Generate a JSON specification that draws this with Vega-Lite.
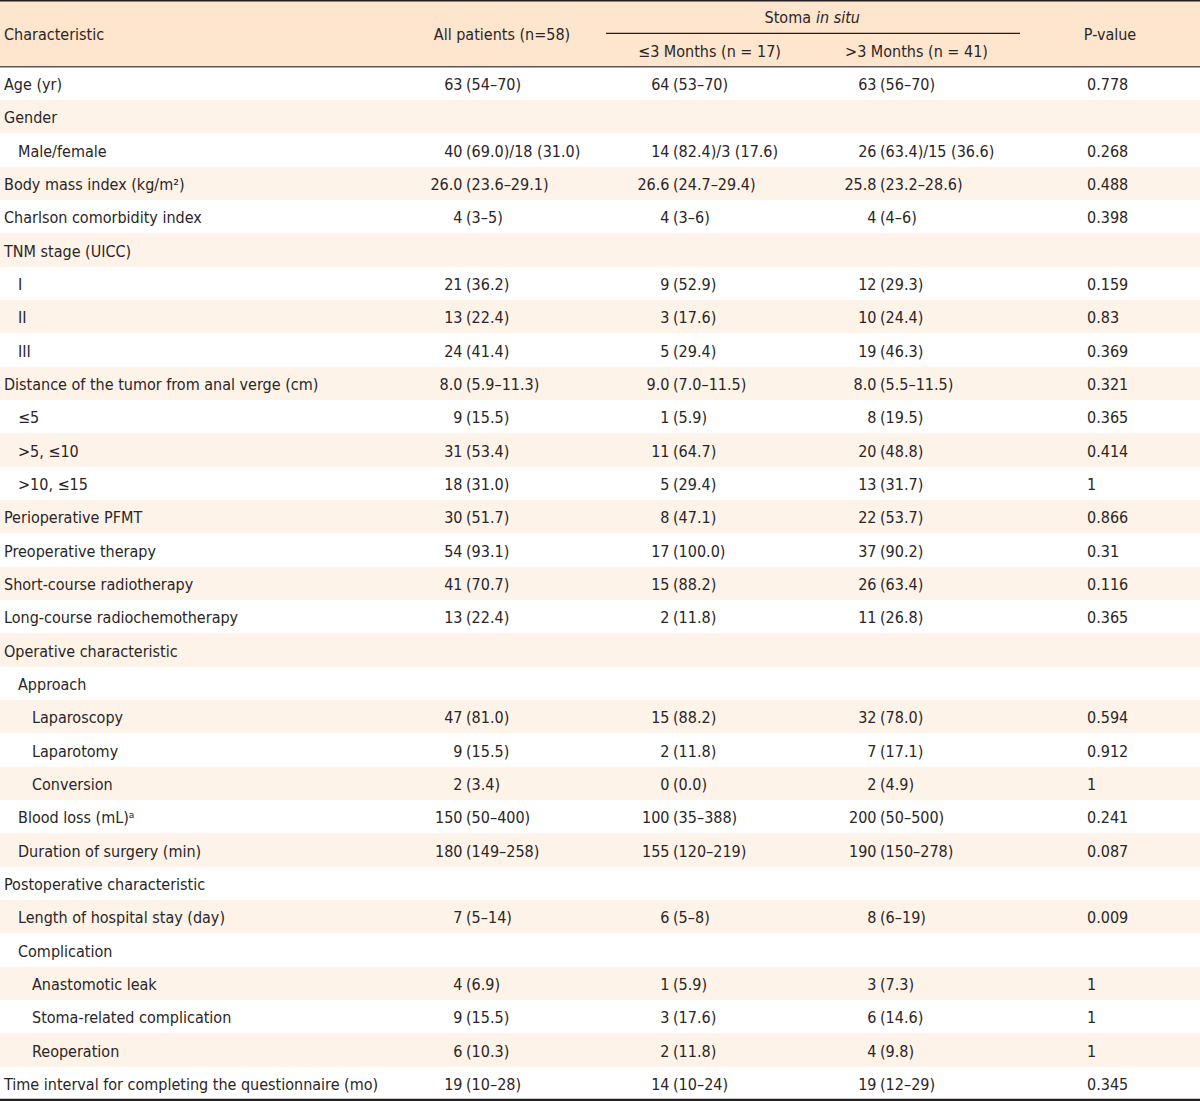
{
  "$schema": "https://vega.github.io/schema/vega-lite/v6.json",
  "width": 1200,
  "height": 1101,
  "padding": 0,
  "autosize": {"type": "none"},
  "background": "white",
  "config": {
    "view": {"stroke": null},
    "text": {"font": "DejaVu Sans Condensed, Roboto, sans-serif", "fontSize": 16, "color": "#2a2526", "dy": 1.5}
  },
  "datasets": {
    "hdr": [
      {"r": -2, "c": 0, "c2": 1, "t": "Characteristic"},
      {"r": -2, "c": 1, "c2": 2, "t": "All patients (n=58)"},
      {"r": -2, "c": 2, "c2": 4, "t": "Stoma", "it": "in situ"},
      {"r": -1, "c": 2, "c2": 3, "t": "≤3 Months (n = 17)"},
      {"r": -1, "c": 3, "c2": 4, "t": ">3 Months (n = 41)"},
      {"r": -2, "c": 4, "c2": 5, "t": "P-value"}
    ],
    "body": [
      {"r": 0, "c": 0, "l": 0, "n": "Age (yr)"},
      {"r": 0, "c": 1, "n": "63", "s": "(54–70)"},
      {"r": 0, "c": 2, "n": "64", "s": "(53–70)"},
      {"r": 0, "c": 3, "n": "63", "s": "(56–70)"},
      {"r": 0, "c": 4, "n": "0.778"},
      {"r": 1, "c": 0, "l": 0, "n": "Gender"},
      {"r": 2, "c": 0, "l": 1, "n": "Male/female"},
      {"r": 2, "c": 1, "n": "40", "s": "(69.0)/18 (31.0)"},
      {"r": 2, "c": 2, "n": "14", "s": "(82.4)/3 (17.6)"},
      {"r": 2, "c": 3, "n": "26", "s": "(63.4)/15 (36.6)"},
      {"r": 2, "c": 4, "n": "0.268"},
      {"r": 3, "c": 0, "l": 0, "n": "Body mass index (kg/m²)"},
      {"r": 3, "c": 1, "n": "26.0", "s": "(23.6–29.1)"},
      {"r": 3, "c": 2, "n": "26.6", "s": "(24.7–29.4)"},
      {"r": 3, "c": 3, "n": "25.8", "s": "(23.2–28.6)"},
      {"r": 3, "c": 4, "n": "0.488"},
      {"r": 4, "c": 0, "l": 0, "n": "Charlson comorbidity index"},
      {"r": 4, "c": 1, "n": "4", "s": "(3–5)"},
      {"r": 4, "c": 2, "n": "4", "s": "(3–6)"},
      {"r": 4, "c": 3, "n": "4", "s": "(4–6)"},
      {"r": 4, "c": 4, "n": "0.398"},
      {"r": 5, "c": 0, "l": 0, "n": "TNM stage (UICC)"},
      {"r": 6, "c": 0, "l": 1, "n": "I"},
      {"r": 6, "c": 1, "n": "21", "s": "(36.2)"},
      {"r": 6, "c": 2, "n": "9", "s": "(52.9)"},
      {"r": 6, "c": 3, "n": "12", "s": "(29.3)"},
      {"r": 6, "c": 4, "n": "0.159"},
      {"r": 7, "c": 0, "l": 1, "n": "II"},
      {"r": 7, "c": 1, "n": "13", "s": "(22.4)"},
      {"r": 7, "c": 2, "n": "3", "s": "(17.6)"},
      {"r": 7, "c": 3, "n": "10", "s": "(24.4)"},
      {"r": 7, "c": 4, "n": "0.83"},
      {"r": 8, "c": 0, "l": 1, "n": "III"},
      {"r": 8, "c": 1, "n": "24", "s": "(41.4)"},
      {"r": 8, "c": 2, "n": "5", "s": "(29.4)"},
      {"r": 8, "c": 3, "n": "19", "s": "(46.3)"},
      {"r": 8, "c": 4, "n": "0.369"},
      {"r": 9, "c": 0, "l": 0, "n": "Distance of the tumor from anal verge (cm)"},
      {"r": 9, "c": 1, "n": "8.0", "s": "(5.9–11.3)"},
      {"r": 9, "c": 2, "n": "9.0", "s": "(7.0–11.5)"},
      {"r": 9, "c": 3, "n": "8.0", "s": "(5.5–11.5)"},
      {"r": 9, "c": 4, "n": "0.321"},
      {"r": 10, "c": 0, "l": 1, "n": "≤5"},
      {"r": 10, "c": 1, "n": "9", "s": "(15.5)"},
      {"r": 10, "c": 2, "n": "1", "s": "(5.9)"},
      {"r": 10, "c": 3, "n": "8", "s": "(19.5)"},
      {"r": 10, "c": 4, "n": "0.365"},
      {"r": 11, "c": 0, "l": 1, "n": ">5, ≤10"},
      {"r": 11, "c": 1, "n": "31", "s": "(53.4)"},
      {"r": 11, "c": 2, "n": "11", "s": "(64.7)"},
      {"r": 11, "c": 3, "n": "20", "s": "(48.8)"},
      {"r": 11, "c": 4, "n": "0.414"},
      {"r": 12, "c": 0, "l": 1, "n": ">10, ≤15"},
      {"r": 12, "c": 1, "n": "18", "s": "(31.0)"},
      {"r": 12, "c": 2, "n": "5", "s": "(29.4)"},
      {"r": 12, "c": 3, "n": "13", "s": "(31.7)"},
      {"r": 12, "c": 4, "n": "1"},
      {"r": 13, "c": 0, "l": 0, "n": "Perioperative PFMT"},
      {"r": 13, "c": 1, "n": "30", "s": "(51.7)"},
      {"r": 13, "c": 2, "n": "8", "s": "(47.1)"},
      {"r": 13, "c": 3, "n": "22", "s": "(53.7)"},
      {"r": 13, "c": 4, "n": "0.866"},
      {"r": 14, "c": 0, "l": 0, "n": "Preoperative therapy"},
      {"r": 14, "c": 1, "n": "54", "s": "(93.1)"},
      {"r": 14, "c": 2, "n": "17", "s": "(100.0)"},
      {"r": 14, "c": 3, "n": "37", "s": "(90.2)"},
      {"r": 14, "c": 4, "n": "0.31"},
      {"r": 15, "c": 0, "l": 0, "n": "Short-course radiotherapy"},
      {"r": 15, "c": 1, "n": "41", "s": "(70.7)"},
      {"r": 15, "c": 2, "n": "15", "s": "(88.2)"},
      {"r": 15, "c": 3, "n": "26", "s": "(63.4)"},
      {"r": 15, "c": 4, "n": "0.116"},
      {"r": 16, "c": 0, "l": 0, "n": "Long-course radiochemotherapy"},
      {"r": 16, "c": 1, "n": "13", "s": "(22.4)"},
      {"r": 16, "c": 2, "n": "2", "s": "(11.8)"},
      {"r": 16, "c": 3, "n": "11", "s": "(26.8)"},
      {"r": 16, "c": 4, "n": "0.365"},
      {"r": 17, "c": 0, "l": 0, "n": "Operative characteristic"},
      {"r": 18, "c": 0, "l": 1, "n": "Approach"},
      {"r": 19, "c": 0, "l": 2, "n": "Laparoscopy"},
      {"r": 19, "c": 1, "n": "47", "s": "(81.0)"},
      {"r": 19, "c": 2, "n": "15", "s": "(88.2)"},
      {"r": 19, "c": 3, "n": "32", "s": "(78.0)"},
      {"r": 19, "c": 4, "n": "0.594"},
      {"r": 20, "c": 0, "l": 2, "n": "Laparotomy"},
      {"r": 20, "c": 1, "n": "9", "s": "(15.5)"},
      {"r": 20, "c": 2, "n": "2", "s": "(11.8)"},
      {"r": 20, "c": 3, "n": "7", "s": "(17.1)"},
      {"r": 20, "c": 4, "n": "0.912"},
      {"r": 21, "c": 0, "l": 2, "n": "Conversion"},
      {"r": 21, "c": 1, "n": "2", "s": "(3.4)"},
      {"r": 21, "c": 2, "n": "0", "s": "(0.0)"},
      {"r": 21, "c": 3, "n": "2", "s": "(4.9)"},
      {"r": 21, "c": 4, "n": "1"},
      {"r": 22, "c": 0, "l": 1, "n": "Blood loss (mL)ᵃ"},
      {"r": 22, "c": 1, "n": "150", "s": "(50–400)"},
      {"r": 22, "c": 2, "n": "100", "s": "(35–388)"},
      {"r": 22, "c": 3, "n": "200", "s": "(50–500)"},
      {"r": 22, "c": 4, "n": "0.241"},
      {"r": 23, "c": 0, "l": 1, "n": "Duration of surgery (min)"},
      {"r": 23, "c": 1, "n": "180", "s": "(149–258)"},
      {"r": 23, "c": 2, "n": "155", "s": "(120–219)"},
      {"r": 23, "c": 3, "n": "190", "s": "(150–278)"},
      {"r": 23, "c": 4, "n": "0.087"},
      {"r": 24, "c": 0, "l": 0, "n": "Postoperative characteristic"},
      {"r": 25, "c": 0, "l": 1, "n": "Length of hospital stay (day)"},
      {"r": 25, "c": 1, "n": "7", "s": "(5–14)"},
      {"r": 25, "c": 2, "n": "6", "s": "(5–8)"},
      {"r": 25, "c": 3, "n": "8", "s": "(6–19)"},
      {"r": 25, "c": 4, "n": "0.009"},
      {"r": 26, "c": 0, "l": 1, "n": "Complication"},
      {"r": 27, "c": 0, "l": 2, "n": "Anastomotic leak"},
      {"r": 27, "c": 1, "n": "4", "s": "(6.9)"},
      {"r": 27, "c": 2, "n": "1", "s": "(5.9)"},
      {"r": 27, "c": 3, "n": "3", "s": "(7.3)"},
      {"r": 27, "c": 4, "n": "1"},
      {"r": 28, "c": 0, "l": 2, "n": "Stoma-related complication"},
      {"r": 28, "c": 1, "n": "9", "s": "(15.5)"},
      {"r": 28, "c": 2, "n": "3", "s": "(17.6)"},
      {"r": 28, "c": 3, "n": "6", "s": "(14.6)"},
      {"r": 28, "c": 4, "n": "1"},
      {"r": 29, "c": 0, "l": 2, "n": "Reoperation"},
      {"r": 29, "c": 1, "n": "6", "s": "(10.3)"},
      {"r": 29, "c": 2, "n": "2", "s": "(11.8)"},
      {"r": 29, "c": 3, "n": "4", "s": "(9.8)"},
      {"r": 29, "c": 4, "n": "1"},
      {"r": 30, "c": 0, "l": 0, "n": "Time interval for completing the questionnaire (mo)"},
      {"r": 30, "c": 1, "n": "19", "s": "(10–28)"},
      {"r": 30, "c": 2, "n": "14", "s": "(10–24)"},
      {"r": 30, "c": 3, "n": "19", "s": "(12–29)"},
      {"r": 30, "c": 4, "n": "0.345"}
    ]
  },
  "layer": [
    {
      "data": {"name": "hdr"},
      "mark": {"type": "rect", "fill": "#fde5ce"},
      "encoding": {
        "y": {"field": "r", "type": "ordinal", "axis": null, "scale": {"type": "band", "domain": [-2,-1,0,1,2,3,4,5,6,7,8,9,10,11,12,13,14,15,16,17,18,19,20,21,22,23,24,25,26,27,28,29,30], "range": [0, 1100], "paddingInner": 0, "paddingOuter": 0}}
      }
    },
    {
      "data": {"name": "body"},
      "transform": [{"filter": "datum.c == 0 && datum.r % 2 == 1"}],
      "mark": {"type": "rect", "fill": "#fef3e9"},
      "encoding": {
        "y": {"field": "r", "type": "ordinal", "axis": null}
      }
    },
    {
      "data": {"name": "hdr"},
      "transform": [{"filter": "datum.r == -2 && datum.c == 0"}],
      "mark": {"type": "rule", "stroke": "#231f20", "strokeWidth": 3},
      "encoding": {"y": {"field": "r", "type": "ordinal", "bandPosition": 0, "axis": null}}
    },
    {
      "data": {"name": "body"},
      "transform": [{"filter": "datum.r == 0 && datum.c == 0"}],
      "mark": {"type": "rule", "stroke": "#5b5656", "strokeWidth": 1.5},
      "encoding": {"y": {"field": "r", "type": "ordinal", "bandPosition": 0, "axis": null}}
    },
    {
      "data": {"name": "body"},
      "transform": [{"filter": "datum.r == 30 && datum.c == 0"}],
      "mark": {"type": "rule", "stroke": "#231f20", "strokeWidth": 2.5},
      "encoding": {"y": {"field": "r", "type": "ordinal", "bandPosition": 1, "axis": null}}
    },
    {
      "data": {"name": "hdr"},
      "transform": [{"filter": "datum.t == 'Stoma'"}],
      "mark": {"type": "rule", "stroke": "#231f20", "strokeWidth": 1.2},
      "encoding": {
        "x": {"field": "c", "type": "quantitative", "axis": null, "scale": {"type": "linear", "domain": [0, 1, 4, 5], "range": [0, 399, 1020, 1200], "nice": false, "zero": false}},
        "x2": {"field": "c2"},
        "y": {"field": "r", "type": "ordinal", "bandPosition": 1, "axis": null}
      }
    },
    {
      "data": {"name": "hdr"},
      "transform": [{"filter": "datum.c == 0"}],
      "mark": {"type": "text", "align": "left", "dx": 4},
      "encoding": {
        "x": {"field": "c", "type": "quantitative", "axis": null},
        "y": {"field": "r", "type": "ordinal", "bandPosition": 1, "axis": null},
        "text": {"field": "t"}
      }
    },
    {
      "data": {"name": "hdr"},
      "transform": [{"filter": "datum.c == 1"}],
      "mark": {"type": "text", "align": "center", "dx": 103},
      "encoding": {
        "x": {"field": "c", "type": "quantitative", "axis": null},
        "y": {"field": "r", "type": "ordinal", "bandPosition": 1, "axis": null},
        "text": {"field": "t"}
      }
    },
    {
      "data": {"name": "hdr"},
      "transform": [{"filter": "datum.c == 4"}],
      "mark": {"type": "text", "align": "center", "dx": 90},
      "encoding": {
        "x": {"field": "c", "type": "quantitative", "axis": null},
        "y": {"field": "r", "type": "ordinal", "bandPosition": 1, "axis": null},
        "text": {"field": "t"}
      }
    },
    {
      "data": {"name": "hdr"},
      "transform": [{"filter": "datum.r == -1"}],
      "mark": {"type": "text", "align": "center", "dx": 103.5},
      "encoding": {
        "x": {"field": "c", "type": "quantitative", "axis": null},
        "y": {"field": "r", "type": "ordinal", "axis": null},
        "text": {"field": "t"}
      }
    },
    {
      "data": {"name": "hdr"},
      "transform": [{"filter": "datum.t == 'Stoma'"}],
      "mark": {"type": "text", "align": "right", "dx": 205},
      "encoding": {
        "x": {"field": "c", "type": "quantitative", "axis": null},
        "y": {"field": "r", "type": "ordinal", "axis": null},
        "text": {"field": "t"}
      }
    },
    {
      "data": {"name": "hdr"},
      "transform": [{"filter": "datum.t == 'Stoma'"}],
      "mark": {"type": "text", "align": "left", "dx": 210, "fontStyle": "italic"},
      "encoding": {
        "x": {"field": "c", "type": "quantitative", "axis": null},
        "y": {"field": "r", "type": "ordinal", "axis": null},
        "text": {"field": "it"}
      }
    },
    {
      "data": {"name": "body"},
      "transform": [{"filter": "datum.c == 0 && datum.l == 0"}],
      "mark": {"type": "text", "align": "left", "dx": 4},
      "encoding": {
        "x": {"field": "c", "type": "quantitative", "axis": null},
        "y": {"field": "r", "type": "ordinal", "axis": null},
        "text": {"field": "n"}
      }
    },
    {
      "data": {"name": "body"},
      "transform": [{"filter": "datum.c == 0 && datum.l == 1"}],
      "mark": {"type": "text", "align": "left", "dx": 18},
      "encoding": {
        "x": {"field": "c", "type": "quantitative", "axis": null},
        "y": {"field": "r", "type": "ordinal", "axis": null},
        "text": {"field": "n"}
      }
    },
    {
      "data": {"name": "body"},
      "transform": [{"filter": "datum.c == 0 && datum.l == 2"}],
      "mark": {"type": "text", "align": "left", "dx": 32},
      "encoding": {
        "x": {"field": "c", "type": "quantitative", "axis": null},
        "y": {"field": "r", "type": "ordinal", "axis": null},
        "text": {"field": "n"}
      }
    },
    {
      "data": {"name": "body"},
      "transform": [{"filter": "datum.c >= 1 && datum.c <= 3"}],
      "mark": {"type": "text", "align": "right", "dx": 63.5},
      "encoding": {
        "x": {"field": "c", "type": "quantitative", "axis": null},
        "y": {"field": "r", "type": "ordinal", "axis": null},
        "text": {"field": "n"}
      }
    },
    {
      "data": {"name": "body"},
      "transform": [{"filter": "datum.c >= 1 && datum.c <= 3"}],
      "mark": {"type": "text", "align": "left", "dx": 67},
      "encoding": {
        "x": {"field": "c", "type": "quantitative", "axis": null},
        "y": {"field": "r", "type": "ordinal", "axis": null},
        "text": {"field": "s"}
      }
    },
    {
      "data": {"name": "body"},
      "transform": [{"filter": "datum.c == 4"}],
      "mark": {"type": "text", "align": "left", "dx": 67},
      "encoding": {
        "x": {"field": "c", "type": "quantitative", "axis": null},
        "y": {"field": "r", "type": "ordinal", "axis": null},
        "text": {"field": "n"}
      }
    }
  ]
}
